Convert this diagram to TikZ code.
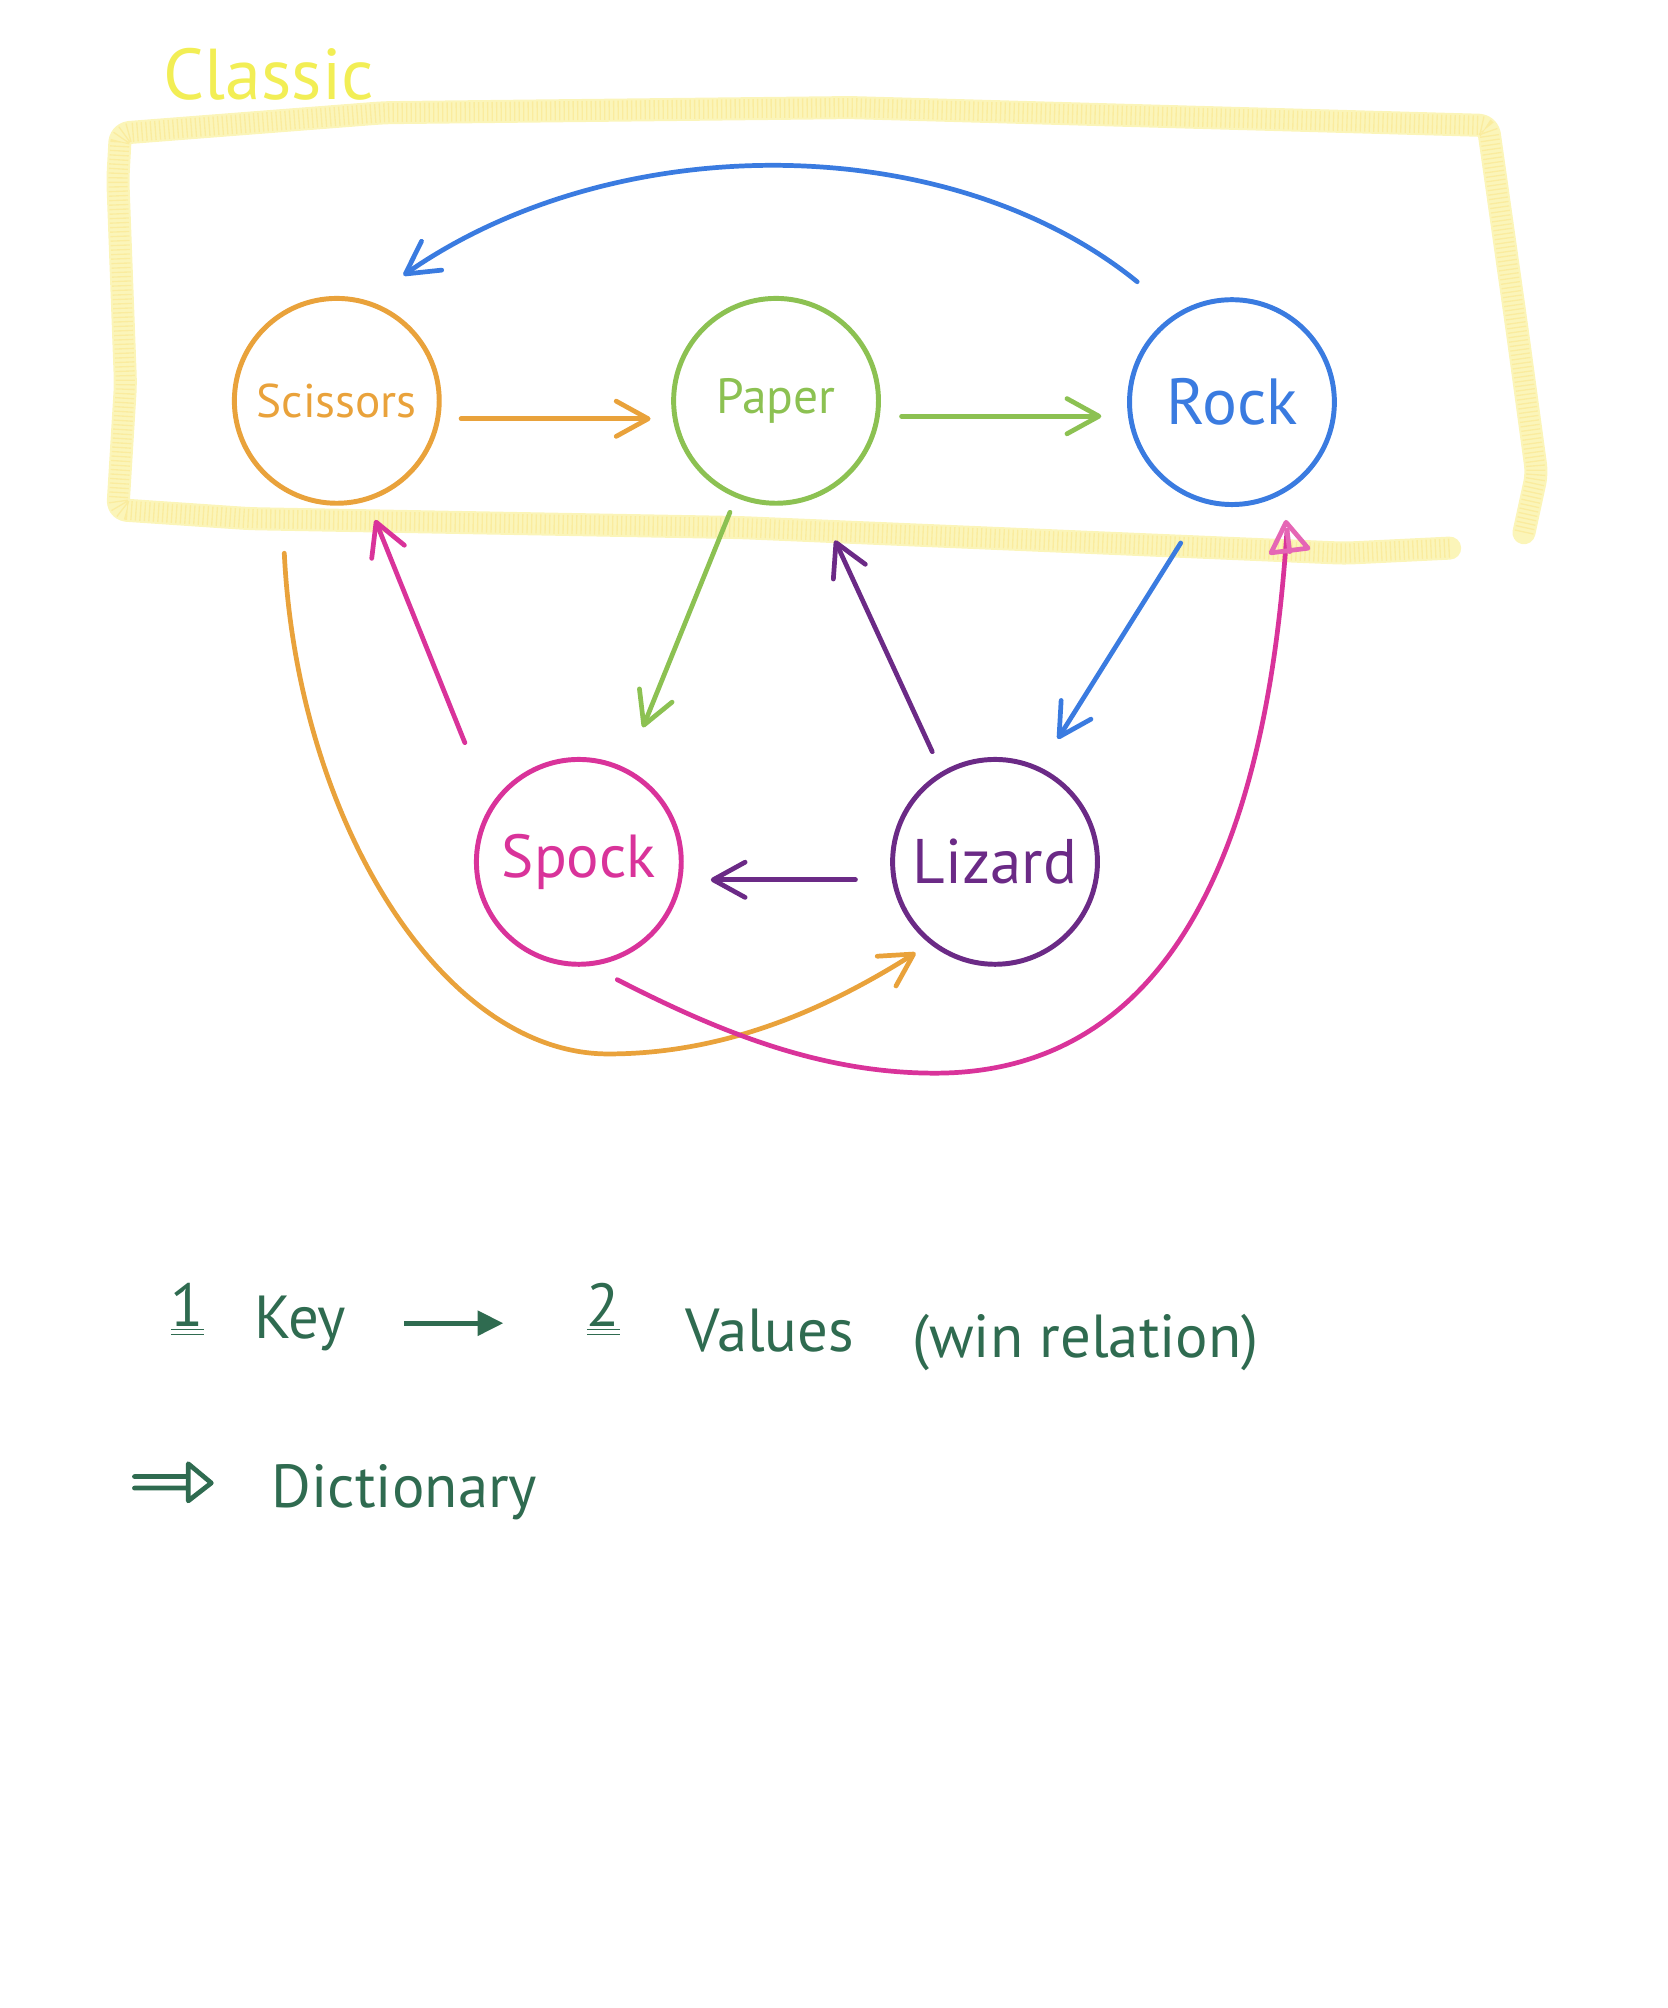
\documentclass[tikz,border=0pt]{standalone}
\usepackage{fontspec}
\setmainfont{PT Sans}
\usetikzlibrary{arrows.meta,calc}
\definecolor{corange}{HTML}{E9A23B}
\definecolor{cgreen}{HTML}{8CC152}
\definecolor{cblue}{HTML}{3A7BE0}
\definecolor{cmagenta}{HTML}{D9339A}
\definecolor{cpink}{HTML}{E566B5}
\definecolor{cpurple}{HTML}{6B2A86}
\definecolor{cdark}{HTML}{2F6B50}
\definecolor{cyellow}{HTML}{F8EC80}
\definecolor{cyeltext}{HTML}{F2EE55}
\begin{document}
\begin{tikzpicture}[x=0.02cm,y=-0.02cm,
  state/.style={circle, draw, line width=2.2pt, minimum size=3.2cm, inner sep=0pt},
  conn/.style={line width=2.1pt, line cap=round,
    -{Straight Barb[length=0.5cm,width=0.55cm,line cap=round,line join=round]}},
  opentri/.style={line width=2.1pt, line cap=round,
    -{Triangle[open,length=0.55cm,width=0.7cm,line join=round]}},
  note/.style={text=cdark, anchor=base west, inner sep=0pt, font=\fontsize{27}{30}\selectfont},
  hlbase/.style={draw=cyellow, line width=0.36cm, opacity=0.55, line join=round, line cap=round, rounded corners=4pt},
  hlgrain/.style={draw=cyellow!85!orange, line width=0.3cm, opacity=0.35, dash pattern=on 0.6pt off 1.4pt, line join=round, rounded corners=4pt}
]
\useasboundingbox (0,0) rectangle (1302,1568);

% highlighter frame
\draw[hlbase] (1132,428) -- (1050,432) -- (579,412) -- (195,405) -- (92,398)
  -- (98,300) -- (92,140) -- (94,104) -- (300,88) -- (664,84) -- (1162,98)
  -- (1168,140) -- (1185,260) -- (1200,370) -- (1190,416);
\draw[hlgrain] (1132,428) -- (1050,432) -- (579,412) -- (195,405) -- (92,398)
  -- (98,300) -- (92,140) -- (94,104) -- (300,88) -- (664,84) -- (1162,98)
  -- (1168,140) -- (1185,260) -- (1200,370) -- (1190,416);
\node[text=cyeltext, font=\fontsize{32}{36}\selectfont] (classic) at (210,58) {Classic};

% states
\node[state, draw=corange, text=corange, font=\fontsize{21}{24}\selectfont] (S) at (263,313) {Scissors};
\node[state, draw=cgreen, text=cgreen, font=\fontsize{22}{24}\selectfont] (P) at (606,313) {Paper};
\node[state, draw=cblue, text=cblue, font=\fontsize{29}{32}\selectfont] (R) at (962,314) {Rock};
\node[state, draw=cmagenta, text=cmagenta, font=\fontsize{27}{30}\selectfont] (Sp) at (452,673) {Spock};
\node[state, draw=cpurple, text=cpurple, font=\fontsize{28}{30}\selectfont] (L) at (777,673) {Lizard};

% straight connectors
\draw[conn, corange] ($(S)+(97,14)$) -- ($(P)+(-98,14)$);
\draw[conn, cgreen] ($(P)+(98,12)$) -- ($(R)+(-102,11)$);
\draw[conn, cgreen] ($(P)+(-36,87)$) -- ($(Sp)+(50,-105)$);
\draw[conn, cblue] ($(R)+(-40,110)$) -- ($(L)+(49,-96)$);
\draw[conn, cpurple] ($(L)+(-49,-86)$) -- ($(P)+(46,109)$);
\draw[conn, cmagenta] ($(Sp)+(-89,-93)$) -- ($(S)+(30,93)$);
\draw[conn, cpurple] ($(L)+(-109,14)$) -- ($(Sp)+(103,14)$);

% curved connectors
\draw[conn, cblue] ($(R)+(-74,-94)$) .. controls (740,100) and (480,100) .. ($(S)+(52,-98)$);
\draw[conn, corange] ($(S)+(-41,119)$) .. controls (232,640) and (345,823) .. (475,823)
  .. controls (570,823) and (650,785) .. ($(L)+(-62,71)$);
\draw[line width=2.1pt, line cap=round, cmagenta] ($(Sp)+(30,92)$) .. controls (560,805) and (640,838) .. (730,838)
  .. controls (960,838) and (995,560) .. ($(R)+(43,100)$);
\draw[opentri, cpink] ($(R)+(43,100)$) -- ($(R)+(42,92)$);

% notes
\node[note] (one) at (133,1036) {\underline{\underline{1}}};
\node[note] (Key) at (198,1045) {Key};
\node[note] (two) at (458,1036) {\underline{\underline{2}}};
\node[note] (values) at (535,1055) {Values};
\node[note] (win) at (712,1060) {(win relation)};
\draw[line width=2.1pt, cdark, shorten <=0.9cm, shorten >=1.3cm, -{Triangle[length=0.4cm,width=0.38cm]}]
  (Key.east) -- (Key.east -| two.west);

\draw[line width=2.1pt, cdark, line cap=round, line join=round]
  (105,1153) -- (147,1153) (105,1162) -- (147,1162)
  (147,1143) -- (165,1158) -- (147,1172) -- cycle;
\node[note] (dict) at (212,1177) {Dictionary};
\end{tikzpicture}
\end{document}
